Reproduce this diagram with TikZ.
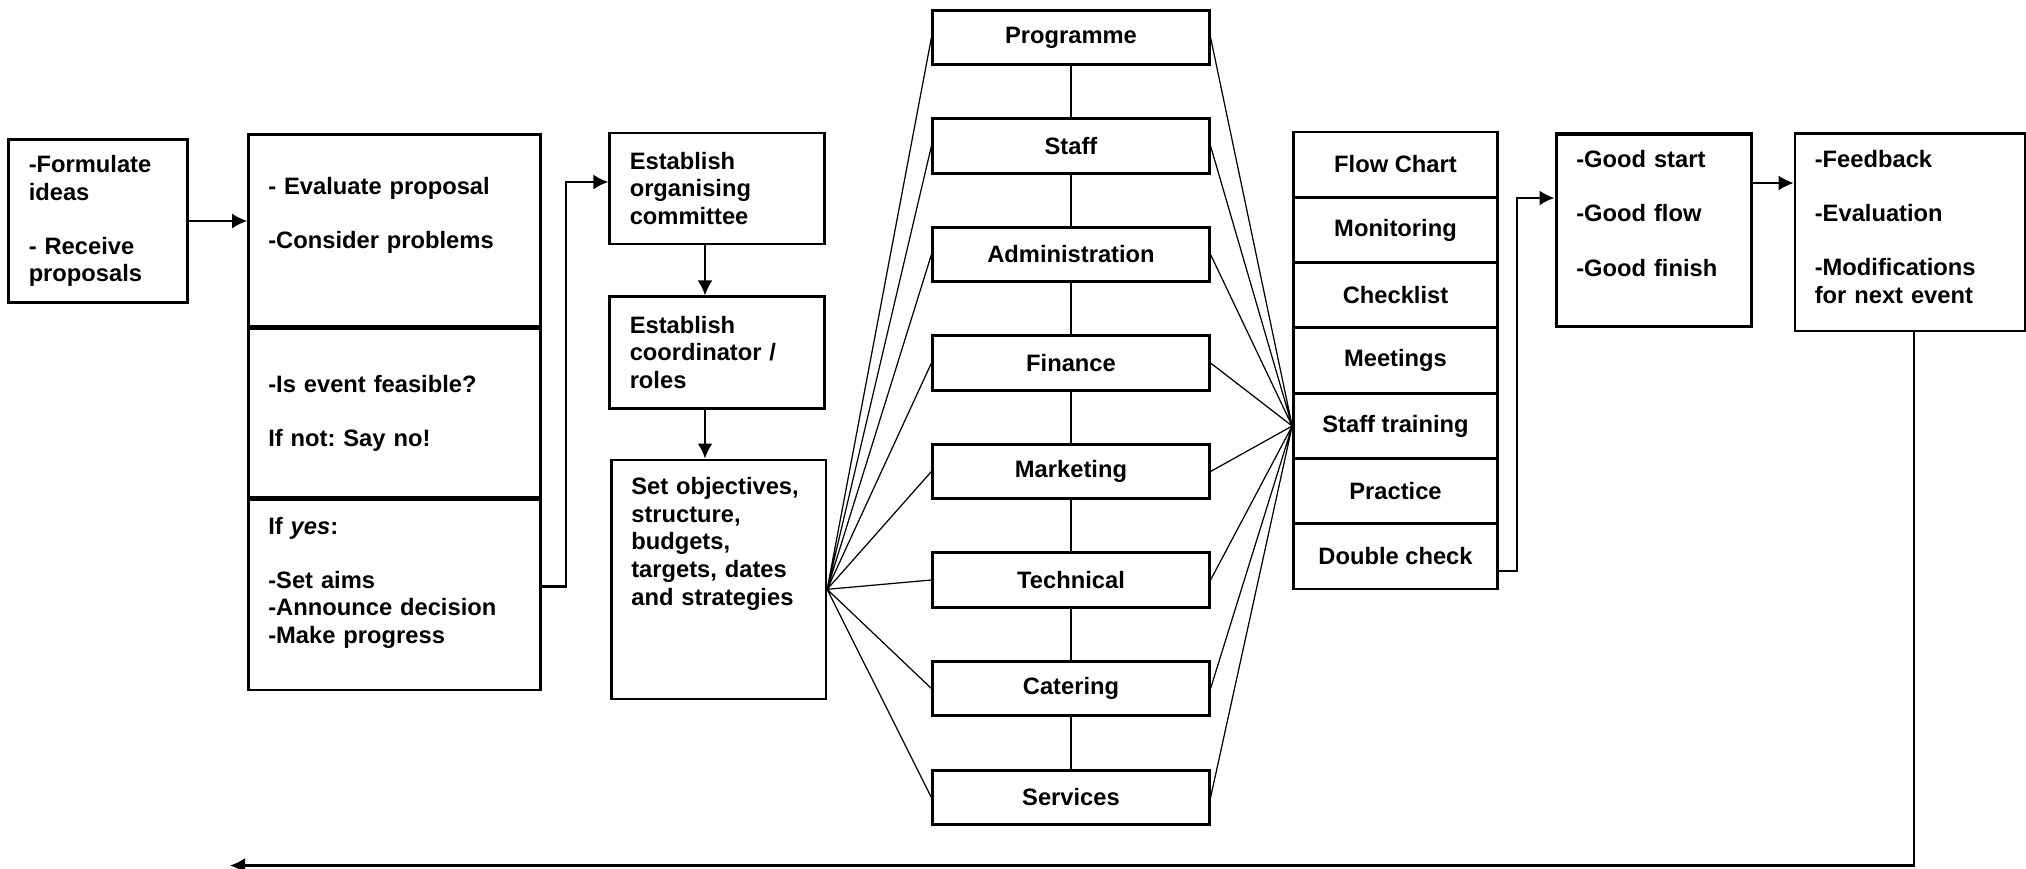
\documentclass[tikz,border=0pt]{standalone}
\usepackage{fontspec}
\setmainfont{Liberation Sans}
\frenchspacing
\usetikzlibrary{calc,arrows.meta}

\begin{document}
\begin{tikzpicture}[
  box/.style={draw, line width=1.5pt, font=\fontsize{13.5}{15.8}\selectfont\bfseries, align=center, inner sep=0pt},
  txtbox/.style={box, align=left, inner xsep=0.4cm},
  area/.style={box, minimum width=5.53cm, minimum height=1.09cm},
  task/.style={box, minimum width=4.08cm, minimum height=1.307cm},
  link/.style={line width=0.7pt},
  spine/.style={line width=1.5pt},
  flow/.style={line width=1.3pt,-{Latex[length=3mm,width=3mm]}}
]
\useasboundingbox (0,0) rectangle (40.52,-17.38);

% idea and evaluation
\node[txtbox, text width=2.77cm, minimum height=3.26cm] (idea) at (1.96,-4.42) {-Formulate\\ideas\\[15pt]- Receive\\proposals};
\node[txtbox, text width=5.04cm, anchor=north west, text height=1.20cm, text depth=2.63cm] (evaluate) at (4.94,-2.66) {- Evaluate proposal\\[15pt]-Consider problems};
\node[txtbox, text width=5.04cm, minimum height=3.38cm, anchor=north west] (feasible) at (evaluate.south west) {-Is event feasible?\\[15pt]If not: Say no!};
\node[txtbox, text width=5.04cm, anchor=north west, text height=0.68cm, text depth=3.12cm] (ifyes) at (feasible.south west) {If \textit{yes}:\\[15pt]-Set aims\\-Announce decision\\-Make progress};

% organisation
\node[txtbox, text width=3.49cm, minimum height=2.22cm] (commit) at (14.34,-3.77) {Establish\\organising\\committee};
\node[txtbox, text width=3.49cm, minimum height=2.23cm] (coord) at (14.34,-7.05) {Establish\\coordinator /\\roles};
\node[txtbox, text width=3.49cm, anchor=north west, text height=0.69cm, text depth=4.09cm] (objectives) at (12.20,-9.17) {Set objectives,\\structure,\\budgets,\\targets, dates\\and strategies};

% areas
\node[area] (prog) at (21.42,-0.75) {Programme};
\node[area] (staff) at (21.42,-2.92) {Staff};
\node[area] (admin) at (21.42,-5.09) {Administration};
\node[area] (finance) at (21.42,-7.26) {Finance};
\node[area] (market) at (21.42,-9.43) {Marketing};
\node[area] (tech) at (21.42,-11.60) {Technical};
\node[area] (cater) at (21.42,-13.77) {Catering};
\node[area] (serv) at (21.42,-15.95) {Services};

% control tasks
\node[task] (flowchart) at (27.91,-3.29) {Flow Chart};
\node[task] (monitor) at (27.91,-4.60) {Monitoring};
\node[task] (checklist) at (27.91,-5.90) {Checklist};
\node[task] (meet) at (27.91,-7.21) {Meetings};
\node[task] (train) at (27.91,-8.52) {Staff training};
\node[task] (practice) at (27.91,-9.82) {Practice};
\node[task] (dcheck) at (27.91,-11.13) {Double check};

% outcome
\node[txtbox, line width=2pt, text width=3.10cm, anchor=north west, text height=0.68cm, text depth=3.17cm] (good) at (31.09,-2.64) {-Good start\\[15pt]-Good flow\\[15pt]-Good finish};
\node[txtbox, text width=3.80cm, anchor=north west, text height=0.68cm, text depth=3.27cm] (feed) at (35.87,-2.64) {-Feedback\\[15pt]-Evaluation\\[15pt]-Modifications\\for next event};

\coordinate (fanL) at ([yshift=-2mm]objectives.east);
\coordinate (back) at (4.60,-17.31);

\draw[flow, line width=0.7pt] (idea.east) -- (idea.east -| evaluate.west);
\draw[flow] ([yshift=1.7mm]ifyes.east) -- ++(0.49,0) |- ([yshift=1.3mm]commit.west);
\draw[flow] ([xshift=-2.4mm]commit.south) -- ([xshift=-2.4mm]coord.north);
\draw[flow] ([xshift=-2.4mm]coord.south) -- ([xshift=-2.4mm]coord.south |- objectives.north);

\draw[spine] (prog) -- (staff) (staff) -- (admin) (admin) -- (finance) (finance) -- (market)
  (market) -- (tech) (tech) -- (cater) (cater) -- (serv);

\draw[link] (fanL) -- (prog.west) (fanL) -- (staff.west) (fanL) -- (admin.west) (fanL) -- (finance.west)
  (fanL) -- (market.west) (fanL) -- (tech.west) (fanL) -- (cater.west) (fanL) -- (serv.west);
\draw[link] (prog.east) -- (train.west) (staff.east) -- (train.west) (admin.east) -- (train.west)
  (finance.east) -- (train.west) (market.east) -- (train.west) (tech.east) -- (train.west)
  (cater.east) -- (train.west) (serv.east) -- (train.west);

\draw[flow] ([yshift=-2.9mm]dcheck.east) -- ++(0.36,0) |- ([yshift=6.4mm]good.west);
\draw[flow, line width=0.9pt] ([yshift=9.4mm]good.east) -- ([yshift=9.4mm]good.east -| feed.west);
\draw[flow] ([xshift=0.8mm]feed.south) |- (back);
\end{tikzpicture}
\end{document}
